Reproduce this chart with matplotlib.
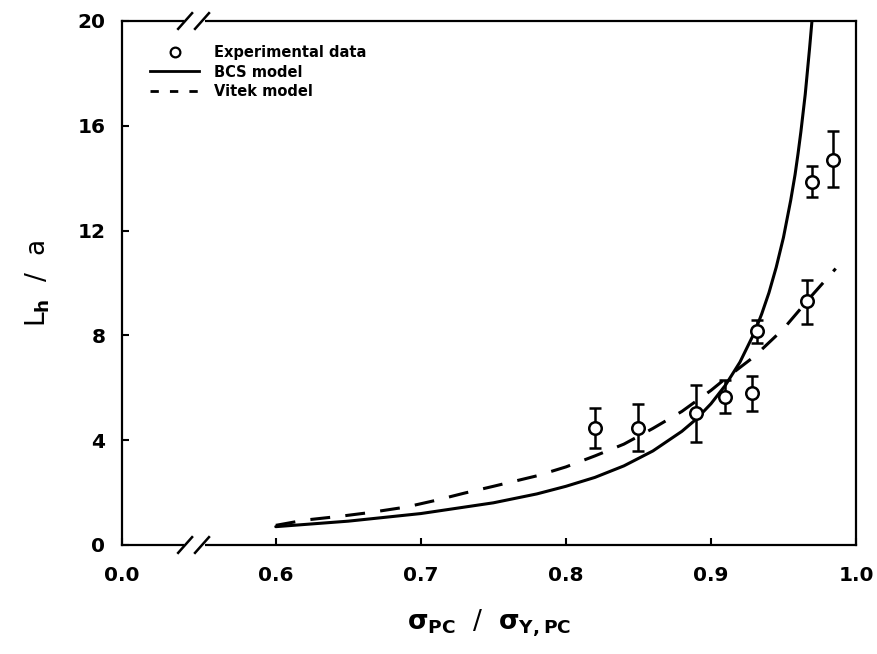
import matplotlib
matplotlib.use("Agg")
import matplotlib.pyplot as plt
from matplotlib.lines import Line2D
import numpy as np

exp_x = [0.820, 0.850, 0.890, 0.910, 0.928, 0.932, 0.966, 0.970, 0.984]
exp_y = [4.45, 4.47, 5.05, 5.66, 5.80, 8.15, 9.30, 13.85, 14.70]
exp_lo = [3.70, 3.60, 3.95, 5.05, 5.12, 7.70, 8.45, 13.27, 13.65]
exp_hi = [5.24, 5.40, 6.10, 6.30, 6.46, 8.57, 10.13, 14.45, 15.80]

# BCS model curve
bcs_x = [0.60, 0.65, 0.70, 0.75, 0.78, 0.80, 0.82, 0.84, 0.86, 0.88, 0.89, 0.90,
         0.91, 0.92, 0.93, 0.935, 0.94, 0.945, 0.95, 0.955, 0.958, 0.96,
         0.962, 0.965, 0.968, 0.970]
bcs_y = [0.70, 0.91, 1.20, 1.61, 1.95, 2.24, 2.58, 3.02, 3.59, 4.34, 4.81, 5.39,
         6.10, 6.98, 8.11, 8.82, 9.63, 10.60, 11.74, 13.16, 14.14, 14.92,
         15.77, 17.20, 18.96, 20.23]

# Vitek model curve
vit_x = [0.60, 0.62, 0.645, 0.665, 0.69, 0.71, 0.73, 0.75, 0.78, 0.80, 0.82,
         0.84, 0.86, 0.88, 0.90, 0.91, 0.93, 0.95, 0.97, 0.986]
vit_y = [0.75, 0.95, 1.10, 1.24, 1.45, 1.70, 1.98, 2.24, 2.64, 2.98, 3.40,
         3.85, 4.45, 5.10, 5.90, 6.35, 7.20, 8.25, 9.55, 10.55]

x_ticks = [0.0, 0.6, 0.7, 0.8, 0.9, 1.0]
y_ticks = [0, 4, 8, 12, 16, 20]

plt.rcParams['font.family'] = 'DejaVu Sans'
plt.rcParams['font.weight'] = 'bold'
plt.rcParams['mathtext.default'] = 'bf'

K = 0.106 / 0.6  # compression of the 0.0-0.6 span (axis break)


def fwd(x):
    x = np.asarray(x, dtype=float)
    return np.where(x < 0.6, 0.6 - (0.6 - x) * K, x)


def inv(y):
    y = np.asarray(y, dtype=float)
    return np.where(y < 0.6, 0.6 - (0.6 - y) / K, y)


fig = plt.figure(figsize=(8.78, 6.54), dpi=100)
ax = fig.add_axes([122 / 878, 1 - 545 / 654, (856 - 122) / 878, (545 - 21) / 654])
ax.set_xscale('function', functions=(fwd, inv))

ax.plot(bcs_x, bcs_y, color='black', lw=2.2, solid_capstyle='round')
ax.plot(vit_x, vit_y, color='black', lw=2.2, dashes=(6.5, 5))

lo = np.array(exp_y) - np.array(exp_lo)
hi = np.array(exp_hi) - np.array(exp_y)
ax.errorbar(exp_x, exp_y, yerr=[lo, hi], fmt='o', mfc='white', mec='black',
            ecolor='black', ms=9, mew=1.8, elinewidth=1.8, capsize=4,
            capthick=1.8, zorder=4)

ax.set_xlim(0.0, 1.0)
ax.set_ylim(0, 20)
ax.set_xticks(x_ticks)
ax.set_xticklabels([f'{t:.1f}' for t in x_ticks])
ax.set_yticks(y_ticks)
ax.set_yticklabels([str(t) for t in y_ticks])
ax.tick_params(axis='both', direction='in', length=5, width=1.5, labelsize=14.5)
ax.tick_params(axis='x', pad=15)
ax.tick_params(axis='y', pad=12)
for s in ax.spines.values():
    s.set_linewidth(1.6)

# axis break marks on top and bottom spines
for yb in (0, 1):
    ax.plot([0.088, 0.107], [yb, yb], transform=ax.transAxes, color='white',
            lw=5, clip_on=False, zorder=5)
    for xb in (0.086, 0.109):
        ax.plot([xb - 0.0095, xb + 0.0095], [yb - 0.015, yb + 0.015],
                transform=ax.transAxes, color='black', lw=1.8,
                clip_on=False, zorder=6)

ax.set_xlabel(r'$\sigma_{PC}$  /  $\sigma_{Y,PC}$', fontsize=19, labelpad=16)
ax.set_ylabel(r'L$_h$  /  a', fontsize=19, labelpad=18)

handles = [
    Line2D([], [], marker='o', ls='none', mfc='white', mec='black', ms=7, mew=1.6),
    Line2D([], [], color='black', lw=2),
    Line2D([], [], color='black', lw=2, dashes=(3, 4)),
]
ax.legend(handles, ['Experimental data', 'BCS model', 'Vitek model'],
          loc='upper left', bbox_to_anchor=(0.03, 0.965), frameon=False,
          prop={'size': 10.5, 'weight': 'bold'}, handlelength=3.4,
          handletextpad=1.0, labelspacing=0.3, borderaxespad=0)

fig.savefig('out.png', dpi=100)
